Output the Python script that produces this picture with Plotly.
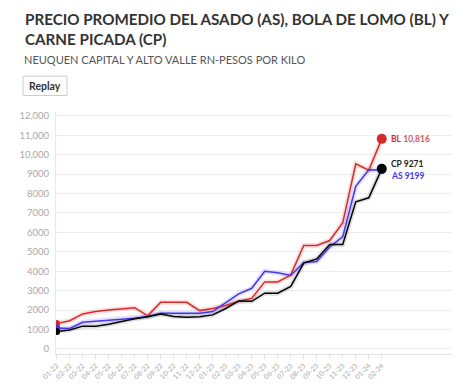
import plotly.graph_objects as go

months = ["01-22", "02-22", "03-22", "04-22", "05-22", "06-22", "07-22", "08-22", "09-22",
          "10-22", "11-22", "12-22", "01-23", "02-23", "03-23", "04-23", "05-23", "06-23",
          "07-23", "08-23", "09-23", "10-23", "11-23", "12-23", "01-24", "02-24"]

bl = [1300, 1450, 1800, 1920, 2000, 2070, 2120, 1700, 2400, 2400, 2400, 1970, 2080, 2230,
      2450, 2600, 3450, 3450, 3800, 5330, 5330, 5580, 6500, 9530, 9200, 10816]
as_ = [1070, 1050, 1370, 1420, 1500, 1530, 1580, 1670, 1830, 1830, 1830, 1830, 1920, 2370,
       2830, 3120, 4000, 3920, 3780, 4450, 4500, 5250, 5780, 8370, 9220, 9199]
cp = [900, 970, 1170, 1170, 1270, 1420, 1550, 1650, 1800, 1670, 1630, 1650, 1750, 2080,
      2470, 2450, 2870, 2870, 3220, 4420, 4630, 5380, 5380, 7570, 7780, 9271]

ytick_vals = [0, 1000, 2000, 3000, 4000, 5000, 6000, 7000, 8000, 9000, 10000, 11000, 12000]
ytick_text = ["0", "1000", "2000", "3000", "4000", "5000", "6000", "7000", "8000", "9000",
              "10,000", "11,000", "12,000"]

RED = "#d42a2a"
BLUE = "#4536ec"
BLACK = "#000000"

# plot area in pixels
L, R, T, B = 56, 452, 112, 362
W, H = 474, 392


def px(x):
    return (x - L) / (R - L)


def py(y):
    return (B - y) / (B - T)


fig = go.Figure()

series = [("BL", bl, RED, "rgba(212,42,42,0.15)"),
          ("AS", as_, BLUE, "rgba(69,54,236,0.15)"),
          ("CP", cp, BLACK, "rgba(0,0,0,0.12)")]

for name, vals, col, halo in series:
    fig.add_trace(go.Scatter(x=months, y=vals, mode="lines",
                             line=dict(color=halo, width=5), hoverinfo="skip",
                             showlegend=False))
for name, vals, col, halo in series:
    fig.add_trace(go.Scatter(x=months, y=vals, mode="lines", name=name,
                             line=dict(color=col, width=1.5), showlegend=False))
    fig.add_trace(go.Scatter(x=[months[0]], y=[vals[0]], mode="markers",
                             marker=dict(color=col, size=7), showlegend=False,
                             hoverinfo="skip"))

# end dots
fig.add_trace(go.Scatter(x=[months[-1]], y=[as_[-1]], mode="markers",
                         marker=dict(color=BLUE, size=7), showlegend=False))
fig.add_trace(go.Scatter(x=[months[-1]], y=[bl[-1]], mode="markers",
                         marker=dict(color=RED, size=10), showlegend=False))
fig.add_trace(go.Scatter(x=[months[-1]], y=[cp[-1]], mode="markers",
                         marker=dict(color=BLACK, size=10), showlegend=False))

annotations = [
    dict(x=months[-1], y=bl[-1], xref="x", yref="y", xanchor="left", yanchor="middle",
         xshift=7, showarrow=False,
         text="<b>BL</b> <span style='color:#d65a5a'><b>10,816</b></span>",
         font=dict(size=8.5, color=RED, family="Lato")),
    dict(x=months[-1], y=cp[-1], xref="x", yref="y", xanchor="left", yanchor="middle",
         xshift=7, yshift=5, showarrow=False, text="<b>CP 9271</b>",
         font=dict(size=8.5, color="#222", family="Lato")),
    dict(x=months[-1], y=as_[-1], xref="x", yref="y", xanchor="left", yanchor="middle",
         xshift=7, yshift=-6, showarrow=False, text="<b>AS 9199</b>",
         font=dict(size=8.5, color=BLUE, family="Lato")),
    dict(x=px(23), y=py(5), xref="paper", yref="paper", xanchor="left", yanchor="top",
         showarrow=False, align="left",
         text="<b>PRECIO PROMEDIO DEL ASADO (AS), BOLA DE LOMO (BL) Y<br>CARNE PICADA (CP)</b>",
         font=dict(size=15.2, color="#333333", family="Lato")),
    dict(x=px(22), y=py(49), xref="paper", yref="paper", xanchor="left", yanchor="top",
         showarrow=False, align="left",
         text="NEUQUEN CAPITAL Y ALTO VALLE RN-PESOS POR KILO",
         font=dict(size=11, color="#555555", family="Lato")),
    dict(x=px(45), y=py(85), xref="paper", yref="paper", xanchor="center", yanchor="middle",
         showarrow=False, text="<b>Replay</b>",
         font=dict(size=10.5, color="#333333", family="Lato")),
]

shapes = [
    dict(type="rect", xref="paper", yref="paper", x0=px(23), x1=px(67), y0=py(75), y1=py(95),
         line=dict(color="#cccccc", width=1), fillcolor="white", layer="below"),
]

fig.update_layout(
    width=W, height=H,
    margin=dict(l=L, r=W - R, t=T, b=H - B),
    paper_bgcolor="white", plot_bgcolor="white",
    font=dict(family="Lato", color="#333"),
    annotations=annotations, shapes=shapes,
    xaxis=dict(type="category", range=[-0.05, 30.4], showgrid=False,
               showline=True, linecolor="#e2e2e2", linewidth=1,
               ticks="outside", ticklen=4, tickcolor="#e2e2e2",
               tickangle=-45, tickfont=dict(size=7, color="#aaaaaa"),
               zeroline=False, fixedrange=True),
    yaxis=dict(range=[-265, 12200], tickvals=ytick_vals, ticktext=ytick_text,
               showgrid=True, gridcolor="#eeeeee", gridwidth=1,
               showline=True, linecolor="#e8e8e8", linewidth=1,
               zeroline=False, ticks="outside", ticklen=4, tickcolor="rgba(0,0,0,0)",
               tickfont=dict(size=9.5, color="#aaaaaa"), fixedrange=True),
    hovermode=False,
)

fig.write_html("out.html", config={"displayModeBar": False},
               post_script="document.body.style.margin='0';document.body.style.overflow='hidden';")
